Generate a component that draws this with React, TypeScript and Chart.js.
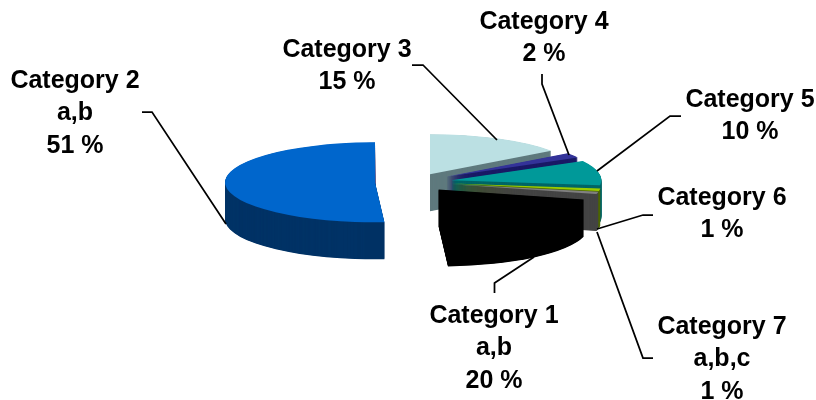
import React, { useEffect, useRef } from "react";
import { Chart, registerables } from "chart.js";

Chart.register(...registerables);

const categories = ["Category 1", "Category 2", "Category 3", "Category 4", "Category 5", "Category 6", "Category 7"];
const values = [20, 51, 15, 2, 10, 1, 1];
const qualifiers = ["a,b", "a,b", "", "", "", "", "a,b,c"];
const topColors = ["#000000", "#0066CC", "#BBE0E3", "#333399", "#009999", "#99CC00", "#808080"];
const sideColors = ["#000000", "#003366", "#5F7A7E", "#1A1A66", "#006666", "#4D6600", "#444444"];
const explodes = [37, 40, 33, 37, 37, 37, 37];
const labelCenters = [
  [494, 316], [75, 81], [347, 50], [544, 22], [750, 100], [722, 198], [722, 327],
];
const leaders = [
  [[494.5, 293], [494.5, 283], [534, 257]],
  [[142, 112], [152, 112], [226, 224]],
  [[412, 65], [423, 65], [497, 140]],
  [[542, 74], [542, 84], [569, 155]],
  [[681, 116], [670, 116], [597, 171]],
  [[653, 215], [643, 215], [597, 229]],
  [[653, 358], [643, 358], [597, 232]],
];

const TILT = 40 / 150;
const DEPTH = 37;
const CENTER_Y = 182;
const ROTATION = 104.4;
const LINE_H = 32.5;

const pie3d = {
  id: "pie3d",
  beforeDatasetsDraw(chart: any) {
    const { ctx } = chart;
    const arcs: any[] = chart.getDatasetMeta(0).data;
    const order = arcs
      .map((arc, i) => ({ arc, i, mid: (arc.startAngle + arc.endAngle) / 2 }))
      .sort((a, b) => Math.sin(a.mid) - Math.sin(b.mid));
    for (const { arc, i, mid } of order) {
      const { x, y, startAngle, endAngle, outerRadius } = arc;
      const ex = Math.cos(mid) * explodes[i];
      const ey = Math.sin(mid) * explodes[i] * TILT;
      const place = (d: number) => {
        ctx.translate(x + ex, CENTER_Y + ey + d);
        ctx.scale(1, TILT);
        ctx.translate(-x, -y);
      };
      ctx.fillStyle = sideColors[i];
      for (let d = DEPTH; d > 0; d -= 0.5) {
        ctx.save();
        place(d);
        ctx.beginPath();
        ctx.moveTo(x, y);
        ctx.arc(x, y, outerRadius, startAngle, endAngle);
        ctx.closePath();
        ctx.fill();
        ctx.restore();
      }
      ctx.save();
      place(0);
      arc.draw(ctx);
      ctx.restore();
    }
    return false;
  },
  afterDraw(chart: any) {
    const { ctx } = chart;
    ctx.save();
    ctx.strokeStyle = "#000000";
    ctx.lineWidth = 1.75;
    for (const pts of leaders) {
      ctx.beginPath();
      pts.forEach(([px, py], j) => (j ? ctx.lineTo(px, py) : ctx.moveTo(px, py)));
      ctx.stroke();
    }
    ctx.fillStyle = "#000000";
    ctx.font = 'bold 25px "Liberation Sans", Arial, sans-serif';
    ctx.textAlign = "center";
    ctx.textBaseline = "middle";
    categories.forEach((name, i) => {
      const lines = [name, qualifiers[i], `${values[i]} %`].filter(Boolean);
      const [lx, ly] = labelCenters[i];
      lines.forEach((t, j) => ctx.fillText(t, lx, ly + j * LINE_H));
    });
    ctx.restore();
  },
};

export default function App() {
  const ref = useRef<HTMLCanvasElement>(null);
  useEffect(() => {
    const chart = new Chart(ref.current!, {
      type: "pie",
      data: {
        labels: categories,
        datasets: [{ data: values, backgroundColor: topColors, borderWidth: 0 }],
      },
      options: {
        animation: false,
        responsive: false,
        rotation: ROTATION,
        radius: 150,
        layout: { padding: { left: 14 } },
        plugins: { legend: { display: false }, tooltip: { enabled: false } },
      } as any,
      plugins: [pie3d as any],
    });
    return () => chart.destroy();
  }, []);
  return (
    <canvas
      ref={ref}
      width={816}
      height={400}
      style={{ position: "fixed", left: 0, top: 0, width: 816, height: 400 }}
    />
  );
}
